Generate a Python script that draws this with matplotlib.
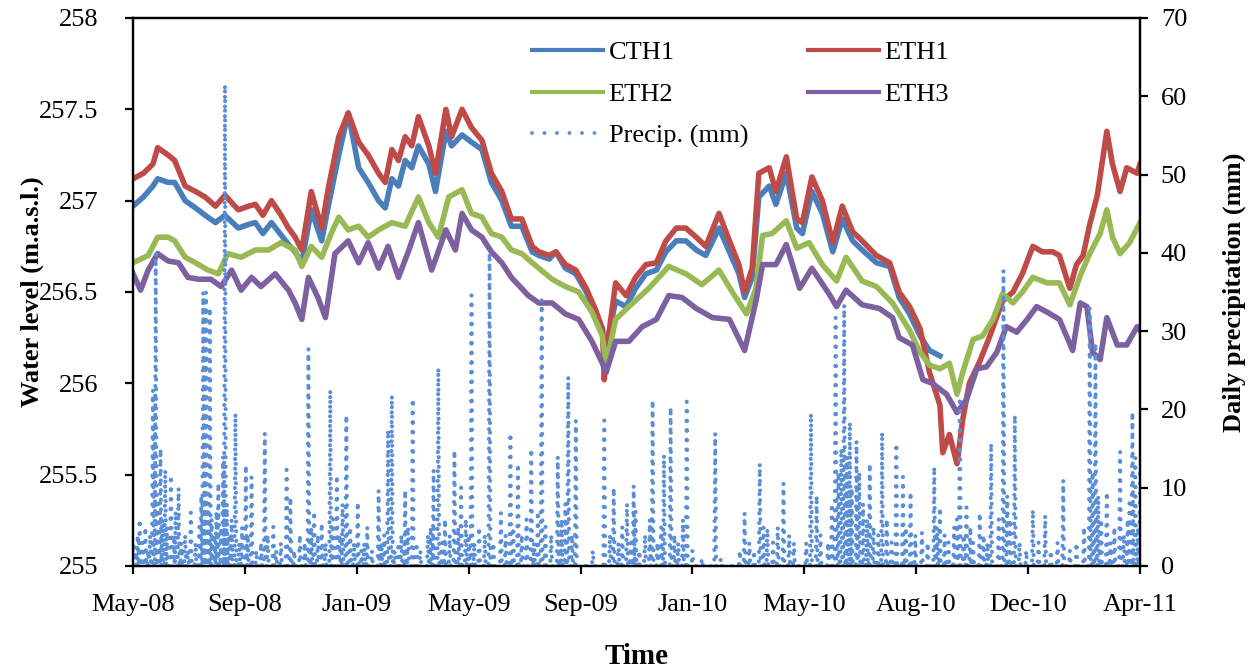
import numpy as np
import matplotlib
matplotlib.use('Agg')
import matplotlib.pyplot as plt
from matplotlib.lines import Line2D
from matplotlib.ticker import FuncFormatter

# tick labels along the time axis (Excel-style, evenly spaced)
tick_labels = ['May-08', 'Sep-08', 'Jan-09', 'May-09', 'Sep-09',
               'Jan-10', 'May-10', 'Aug-10', 'Dec-10', 'Apr-11']
tick_step = 118  # days between labels
n_days = 1063

# ETH1 water level (m.a.s.l.), day offsets from start of record
eth1_days = [0, 11, 21, 26, 37, 44, 55, 66, 76, 87,
             97, 111, 122, 129, 137, 146, 155, 164, 171, 178,
             188, 199, 206, 217, 227, 238, 248, 259, 266, 273,
             280, 287, 294, 301, 312, 319, 330, 336, 347, 357,
             368, 378, 389, 399, 410, 421, 428, 439, 446, 456,
             467, 478, 488, 495, 497, 500, 509, 520, 530, 541,
             552, 562, 573, 583, 594, 604, 618, 629, 639, 645,
             653, 660, 671, 678, 689, 700, 706, 716, 727, 738,
             748, 759, 769, 784, 798, 808, 819, 830, 840, 851,
             854, 861, 869, 875, 882, 893, 903, 917, 928, 938,
             949, 959, 970, 977, 988, 995, 1002, 1009, 1017, 1027,
             1033, 1041, 1048, 1059, 1062]
eth1 = [257.12, 257.15, 257.2, 257.29, 257.25, 257.22, 257.08, 257.05, 257.02, 256.97,
        257.03, 256.95, 256.97, 256.98, 256.92, 257.0, 256.93, 256.85, 256.8, 256.73,
        257.05, 256.85, 257.07, 257.35, 257.48, 257.32, 257.25, 257.15, 257.1, 257.28,
        257.22, 257.35, 257.3, 257.46, 257.3, 257.15, 257.5, 257.35, 257.5, 257.4,
        257.33, 257.15, 257.05, 256.9, 256.9, 256.75, 256.72, 256.7, 256.72, 256.65,
        256.62, 256.52, 256.4, 256.3, 256.02, 256.2, 256.55, 256.48, 256.58, 256.65,
        256.66, 256.78, 256.85, 256.85, 256.8, 256.75, 256.93, 256.78, 256.65, 256.5,
        256.63, 257.15, 257.18, 257.05, 257.24, 256.9, 256.88, 257.13, 257.0, 256.77,
        256.97, 256.83, 256.78, 256.7, 256.66, 256.5, 256.42, 256.3, 256.06, 255.88,
        255.62, 255.72, 255.56, 255.8, 256.0, 256.12, 256.25, 256.45, 256.5, 256.6,
        256.75, 256.72, 256.72, 256.7, 256.52, 256.65, 256.7, 256.87, 257.03, 257.38,
        257.2, 257.05, 257.18, 257.15, 257.2]

# CTH1 - same logger dates, record stops in Aug-10
cth1_days = eth1_days[:90]
cth1 = [256.97, 257.02, 257.08, 257.12, 257.1, 257.1, 257.0, 256.96, 256.92, 256.88,
        256.92, 256.85, 256.87, 256.88, 256.82, 256.88, 256.82, 256.76, 256.72, 256.66,
        256.95, 256.78, 256.97, 257.25, 257.48, 257.18, 257.1, 257.0, 256.96, 257.12,
        257.08, 257.22, 257.18, 257.3, 257.2, 257.05, 257.38, 257.3, 257.36, 257.32,
        257.28, 257.1, 257.0, 256.86, 256.86, 256.72, 256.7, 256.68, 256.72, 256.63,
        256.6, 256.5, 256.38, 256.3, 256.2, 256.22, 256.45, 256.42, 256.52, 256.6,
        256.62, 256.72, 256.78, 256.78, 256.73, 256.7, 256.85, 256.72, 256.6, 256.47,
        256.58, 257.02, 257.08, 256.98, 257.15, 256.85, 256.82, 257.05, 256.93, 256.72,
        256.9, 256.78, 256.73, 256.66, 256.64, 256.47, 256.38, 256.26, 256.18, 256.15]

eth2_days = [0, 16, 26, 37, 44, 55, 66, 79, 90, 100,
             114, 129, 143, 156, 171, 178, 188, 199, 209, 217,
             227, 238, 248, 259, 273, 287, 301, 312, 322, 333,
             347, 357, 368, 378, 389, 399, 410, 421, 435, 442,
             456, 470, 484, 495, 499, 509, 523, 544, 565, 583,
             600, 618, 632, 647, 657, 664, 674, 689, 700, 713,
             727, 742, 752, 769, 784, 801, 819, 830, 840, 851,
             861, 869, 875, 886, 896, 907, 917, 928, 938, 949,
             964, 977, 988, 999, 1009, 1020, 1027, 1033, 1041, 1051,
             1062]
eth2 = [256.66, 256.7, 256.8, 256.8, 256.78, 256.69, 256.66, 256.62, 256.6, 256.71,
        256.69, 256.73, 256.73, 256.77, 256.73, 256.64, 256.75, 256.69, 256.82, 256.91,
        256.84, 256.86, 256.8, 256.84, 256.88, 256.86, 257.02, 256.88, 256.8, 257.02,
        257.06, 256.93, 256.91, 256.82, 256.8, 256.73, 256.71, 256.66, 256.6, 256.57,
        256.53, 256.5, 256.39, 256.26, 256.1, 256.35, 256.42, 256.52, 256.64, 256.6,
        256.54, 256.62, 256.5, 256.38, 256.52, 256.81, 256.82, 256.89, 256.74, 256.77,
        256.65, 256.56, 256.69, 256.56, 256.53, 256.44, 256.29, 256.17, 256.1, 256.08,
        256.11, 255.94, 256.06, 256.24, 256.26, 256.35, 256.49, 256.44, 256.5, 256.58,
        256.55, 256.55, 256.43, 256.59, 256.71, 256.82, 256.95, 256.8, 256.71, 256.77,
        256.88]

eth3_days = [0, 8, 16, 26, 37, 48, 58, 69, 82, 93,
             104, 114, 125, 135, 150, 164, 171, 178, 185, 195,
             203, 213, 227, 238, 248, 259, 269, 280, 291, 301,
             315, 330, 340, 347, 357, 368, 378, 389, 399, 417,
             428, 442, 456, 470, 484, 495, 499, 509, 523, 537,
             552, 565, 579, 594, 611, 629, 645, 657, 664, 678,
             689, 703, 716, 734, 742, 752, 769, 787, 801, 808,
             822, 833, 843, 858, 869, 879, 890, 900, 911, 921,
             932, 943, 953, 964, 977, 991, 999, 1006, 1012, 1020,
             1027, 1038, 1048, 1059, 1062]
eth3 = [256.6, 256.51, 256.62, 256.71, 256.67, 256.66, 256.58, 256.57, 256.57, 256.53,
        256.62, 256.51, 256.58, 256.53, 256.6, 256.51, 256.44, 256.35, 256.58, 256.47,
        256.36, 256.71, 256.78, 256.66, 256.77, 256.63, 256.75, 256.58, 256.73, 256.88,
        256.62, 256.84, 256.73, 256.93, 256.84, 256.8, 256.72, 256.66, 256.58, 256.48,
        256.44, 256.44, 256.38, 256.35, 256.23, 256.11, 256.06, 256.23, 256.23, 256.31,
        256.35, 256.48, 256.47, 256.41, 256.36, 256.35, 256.18, 256.45, 256.65, 256.65,
        256.76, 256.52, 256.63, 256.49, 256.42, 256.51, 256.43, 256.41, 256.36, 256.25,
        256.21, 256.02, 256.0, 255.94, 255.84, 255.91, 256.08, 256.09, 256.17, 256.31,
        256.28, 256.35, 256.42, 256.39, 256.35, 256.18, 256.44, 256.42, 256.17, 256.13,
        256.36, 256.21, 256.21, 256.31, 256.29]

# daily precipitation: larger storms and the smaller showers (all other days dry)
storm_days = [7, 21, 24, 34, 40, 48, 61, 74, 77, 81, 90, 95, 97, 108, 119, 125, 139, 148,
              162, 166, 185, 199, 208, 215, 225, 237, 247, 259, 269, 273, 280, 287, 295,
              317, 322, 339, 346, 357, 376, 388, 398, 406, 420, 431, 448, 459, 467, 497,
              507, 521, 528, 530, 548, 560, 567, 584, 614, 645, 661, 669, 686, 715, 721,
              741, 750, 756, 763, 777, 790, 805, 812, 820, 832, 845, 851, 872, 879, 893,
              905, 918, 930, 949, 962, 981, 1009, 1015, 1027, 1041, 1054, 1057, 1062]
storm_mm = [6, 22.5, 40, 12.3, 11.6, 10, 6.8, 35, 35, 33, 10.6, 14, 61.5, 19.5, 12.9, 11.4, 17, 5,
            12.3, 8.8, 27.8, 5.5, 22.5, 11.6, 19.3, 8.2, 5, 9.7, 17.4, 21.8, 3, 9.7, 21.4,
            12.3, 25.3, 14.8, 10, 34.6, 40, 6.8, 17, 13.1, 15, 34, 14, 24.2, 18.6, 18.6,
            10, 8, 10.3, 7, 21.2, 14.2, 20.3, 21, 17, 6.8, 13.1, 4.8, 10.6, 19.5, 9,
            31.7, 33.4, 18.4, 16, 13.1, 17.1, 15.7, 11.4, 9.5, 4.3, 12.7, 7.5, 21.6, 7.5, 6.8,
            15.7, 37.8, 19.3, 7.2, 6.5, 11, 33, 28.5, 9.5, 14.6, 19.7, 13.8, 12.7]
shower_days = [1, 3, 5, 10, 13, 16, 18, 27, 29, 31, 36, 43, 45, 51, 55, 58, 66, 70, 72, 75,
               79, 83, 86, 88, 93, 99, 101, 104, 112, 115, 121, 130, 135, 142, 151, 156,
               170, 176, 181, 188, 191, 195, 203, 211, 218, 221, 229, 233, 241, 244, 252,
               262, 265, 276, 283, 290, 299, 303, 311, 314, 326, 329, 334, 343, 351, 354,
               360, 365, 371, 380, 393, 401, 410, 415, 423, 427, 435, 441, 452, 456, 463,
               485, 503, 512, 516, 525, 534, 540, 545, 553, 557, 571, 575, 580, 590, 600,
               620, 640, 650, 655, 665, 675, 680, 692, 697, 710, 725, 733, 737, 744, 747,
               753, 758, 766, 770, 774, 781, 786, 795, 800, 815, 825, 838, 848, 856, 860,
               866, 869, 876, 883, 886, 897, 901, 913, 922, 925, 935, 942, 955, 968, 975,
               988, 995, 1003, 1012, 1018, 1021, 1031, 1035, 1045, 1049, 1051, 1060]
shower_mm = [3, 2, 4, 3, 5, 2, 4, 8, 15, 6, 5, 4, 7, 3, 4, 2, 3, 5, 9, 12,
             8, 6, 4, 7, 5, 8, 4, 6, 3, 5, 4, 2, 3, 4, 2, 3,
             2, 4, 3, 5, 7, 4, 3, 6, 4, 8, 5, 3, 2, 3, 2,
             3, 4, 2, 4, 5, 3, 2, 4, 5, 3, 6, 4, 5, 6, 4,
             3, 5, 4, 3, 4, 5, 4, 6, 3, 7, 5, 4, 6, 8, 4,
             2, 4, 3, 5, 3, 2, 4, 6, 3, 5, 4, 3, 6, 2, 1,
             1, 2, 3, 2, 5, 3, 5, 4, 3, 3, 4, 3, 8, 12, 15,
             14, 10, 12, 8, 6, 5, 4, 6, 3, 5, 4, 3, 5, 4, 3,
             5, 6, 4, 5, 3, 4, 3, 6, 9, 6, 3, 2, 3, 2, 3,
             2, 3, 5, 12, 9, 6, 3, 5, 4, 6, 8, 5]

c_cth1 = '#4A7EBB'
c_eth1 = '#BE4B48'
c_eth2 = '#98B954'
c_eth3 = '#7D60A0'
c_prec = '#5A8FD8'
dotted = (0, (0.01, 2.3))

plt.rcParams['font.family'] = ['Liberation Serif', 'DejaVu Serif']
plt.rcParams['font.size'] = 19

fig = plt.figure(figsize=(12.6, 6.7), dpi=100)
ax = fig.add_axes([133 / 1260, 104 / 670, 1007 / 1260, 548 / 670])
ax2 = ax.twinx()

lw = 4.0
ax.plot(cth1_days, cth1, color=c_cth1, lw=lw, solid_joinstyle='round')
ax.plot(eth1_days, eth1, color=c_eth1, lw=lw, solid_joinstyle='round')
ax.plot(eth2_days, eth2, color=c_eth2, lw=lw, solid_joinstyle='round')
ax.plot(eth3_days, eth3, color=c_eth3, lw=lw, solid_joinstyle='round')

precip = np.zeros(n_days)
precip[shower_days] = shower_mm
precip[storm_days] = storm_mm
ax2.plot(np.arange(n_days), precip, color=c_prec, lw=3.0, linestyle=dotted,
         dash_capstyle='round')

ax.set_xlim(0, n_days - 1)
ax.set_ylim(255, 258)
ax2.set_ylim(0, 70)
ax.set_xticks(np.arange(len(tick_labels)) * tick_step)
ax.set_xticklabels(tick_labels)
ax.set_yticks(np.arange(255, 258.01, 0.5))
ax.yaxis.set_major_formatter(FuncFormatter(lambda v, p: '%g' % v))
ax2.set_yticks(np.arange(0, 71, 10))

for a in (ax, ax2):
    for s in a.spines.values():
        s.set_linewidth(1.6)
ax.tick_params(axis='x', direction='out', length=6, width=1.6, labelsize=19, pad=14)
ax.tick_params(axis='y', direction='out', length=6, width=1.6, labelsize=19, pad=19)
ax2.tick_params(axis='y', direction='out', length=6, width=1.6, labelsize=19, pad=9)

ax.set_ylabel('Water level (m.a.s.l.)', fontweight='bold', fontsize=19)
ax.yaxis.set_label_coords(-0.088, 0.5)
ax2.set_ylabel('Daily precipitation (mm)', fontweight='bold', fontsize=19)
ax2.yaxis.set_label_coords(1.082, 0.5)
ax.set_xlabel('Time', fontweight='bold', fontsize=21)
ax.xaxis.set_label_coords(0.5, -0.14)

h_cth1 = Line2D([], [], color=c_cth1, lw=3)
h_eth1 = Line2D([], [], color=c_eth1, lw=3)
h_eth2 = Line2D([], [], color=c_eth2, lw=3)
h_eth3 = Line2D([], [], color=c_eth3, lw=3)
h_prec = Line2D([], [], color=c_prec, lw=2.8, linestyle=(0, (0.01, 3.2)),
                dash_capstyle='round')

leg_kw = dict(frameon=False, loc='upper left', borderpad=0, borderaxespad=0,
              handlelength=2.7, handletextpad=0.2, labelspacing=0.68,
              fontsize=19, bbox_transform=fig.transFigure)
leg1 = ax2.legend([h_cth1, h_eth2, h_prec], ['CTH1', 'ETH2', 'Precip. (mm)'],
                  bbox_to_anchor=(532 / 1260, 1 - 41 / 670), **leg_kw)
ax2.add_artist(leg1)
ax2.legend([h_eth1, h_eth3], ['ETH1', 'ETH3'],
           bbox_to_anchor=(808 / 1260, 1 - 41 / 670), **leg_kw)

fig.savefig('out.png', dpi=100)
